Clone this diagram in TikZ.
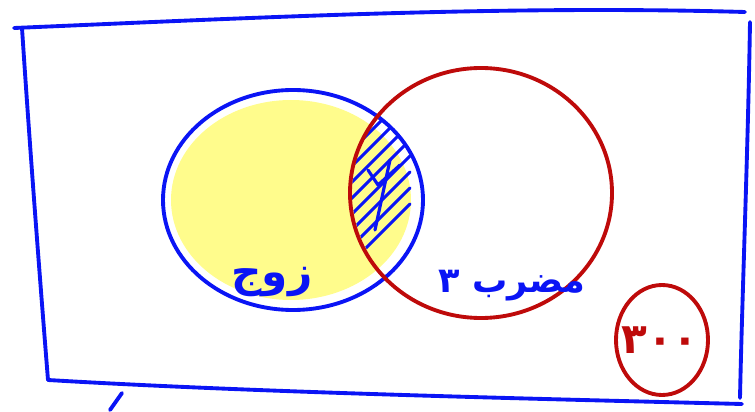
\documentclass[tikz,border=0pt]{standalone}
\usepackage{fontspec}
\newfontfamily\arabicfont[Script=Arabic]{DejaVu Sans}
\TeXXeTstate=1
\usetikzlibrary{positioning,calc}

\definecolor{penblue}{RGB}{10,20,245}
\definecolor{penred}{RGB}{190,10,10}
\definecolor{hilite}{RGB}{255,252,140}

\tikzset{
  pen/.style={line width=2.2pt, line cap=round, line join=round},
  label/.style={font=\arabicfont\bfseries\fontsize{24}{28}\selectfont, inner sep=0pt}
}

\begin{document}
\begin{tikzpicture}[x=0.02cm,y=-0.02cm]
        \useasboundingbox (0,0) rectangle (755,412);

        % universal set
        \draw[pen,penblue] (14,28) .. controls (250,18) and (500,5) .. (745,12);
        \draw[pen,penblue] (22,28) .. controls (30,150) and (40,280) .. (48,380);
        \draw[pen,penblue] (48,380) .. controls (250,392) and (500,398) .. (742,404);
        \draw[pen,penblue] (750,22) .. controls (748,150) and (742,300) .. (740,398);
        \draw[pen,penblue] (122,393) -- (110,410);

        % highlight
        \fill[hilite] (291,200) ellipse (120 and 100);

        % intersection
        \begin{scope}
            \clip (293,200) ellipse (128 and 110);
            \clip (482,192) ellipse (130 and 124);
            \foreach \k in {0,...,9}
                \draw[pen,penblue,line width=1.8pt] ($(350,120)+(0,\k*16)$) -- ++(60,-60);
            \draw[pen,penblue,line width=1.8pt] (368,170) -- (378,185) -- (400,165);
            \draw[pen,penblue,line width=1.8pt] (390,160) -- (375,230);
        \end{scope}

        \draw[pen,penblue] (293,200) ellipse (130 and 110);
        \draw[pen,penred] (481,193) ellipse (131 and 125);
        \draw[pen,penred] (662,340) ellipse (46 and 55);

        \node[label,penblue] (even) at (272,282) {\beginR زوج\endR};
        \node[label,penblue,font=\arabicfont\bfseries\fontsize{20}{24}\selectfont] (three) at (512,286) {\beginR مضرب ۳\endR};
        \node[label,penred,font=\arabicfont\bfseries\fontsize{24}{28}\selectfont] (total) at (660,340) {۳۰۰};
    \end{tikzpicture}
\end{document}
